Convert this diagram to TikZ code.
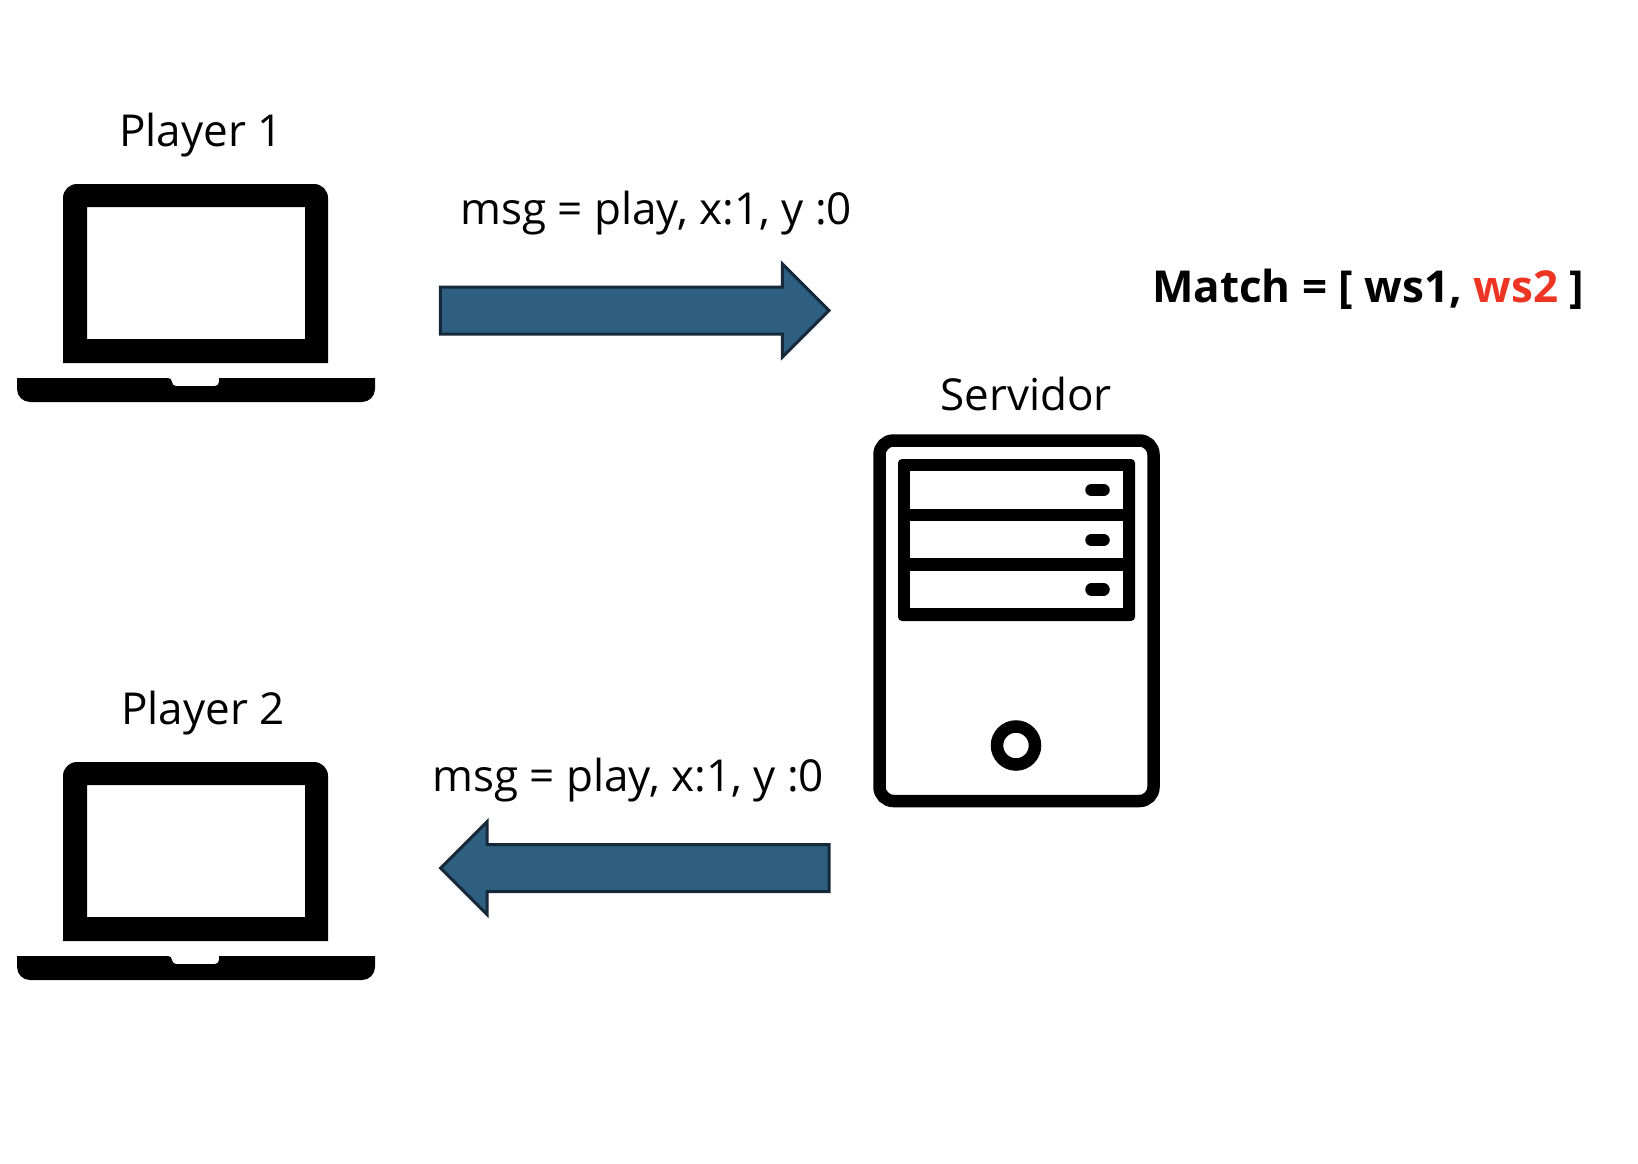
\documentclass[tikz,border=0pt]{standalone}
\usepackage{fontspec}
\setmainfont{Open Sans}
\usetikzlibrary{shapes.arrows}
\definecolor{ink}{HTML}{000000}
\definecolor{flow}{HTML}{2F5F80}
\definecolor{flowline}{HTML}{15293B}
\definecolor{alert}{HTML}{EE3524}
\tikzset{
  lbl/.style={anchor=base,inner sep=0pt,text=ink,font=\fontsize{44}{50}\selectfont},
  msgarrow/.style={single arrow,draw=flowline,fill=flow,line width=3pt,inner xsep=0pt,inner ysep=22pt,
    minimum height=388.5pt,minimum width=90pt,single arrow head extend=23pt,
    single arrow head indent=0pt,miter limit=10,anchor=tip},
  pics/laptop/.style={code={
    \fill[ink,even odd rule]
      (63,363) -- (63,198) [rounded corners=14pt] -- (63,184) -- (328,184) [rounded corners=0pt] -- (328,363) -- cycle
      (87,207) rectangle (305,339);
    \fill[ink] (17,378) [rounded corners=4pt] -- (172,378) -- (172,386) -- (219,386) [rounded corners=0pt] -- (219,378)
      -- (375,378) -- (375,388) [rounded corners=13pt] -- (375,402) -- (17,402) [rounded corners=0pt] -- cycle;
  }}
}
\begin{document}
\begin{tikzpicture}[x=1pt,y=-1pt]
  \useasboundingbox (0,0) rectangle (1638,1164);
  % clients
  \pic at (0,0) {laptop};
  \pic at (0,578) {laptop};
  \node[lbl] (player1) at (201,146) {Player 1};
  \node[lbl] (player2) at (203,724) {Player 2};
  % server
  \node[lbl] (servidor) at (1026,410.5) {Servidor};
  \draw[ink,line width=12.5pt,rounded corners=14pt] (879.5,440.5) rectangle (1153.5,801);
  \fill[ink,rounded corners=4pt] (898,459) rectangle (1135,621);
  \foreach \top/\bot/\btn in {471/509/490,521/558/540,571/608/589.5}{
    \fill[white] (910,\top) rectangle (1123,\bot);
    \draw[ink,line width=12.5pt,line cap=round] (1091.5,\btn) -- (1103.5,\btn);
  }
  \draw[ink,line width=12.5pt] (1016,745.5) circle[radius=19];
  % messages
  \node[msgarrow] (send) at (831,310.5) {};
  \node[msgarrow,shape border rotate=180] (reply) at (438.5,868) {};
  \node[lbl,anchor=base west] (msgtop) at (460,224) {msg = play, x:1, y :0};
  \node[lbl,anchor=base west] (msgbot) at (432,791) {msg = play, x:1, y :0};
  % match state
  \node[lbl,anchor=base west,font=\fontsize{44}{50}\selectfont\bfseries] (match) at (1152,302)
    {Match = [ ws1, \textcolor{alert}{ws2} ]};
\end{tikzpicture}
\end{document}
